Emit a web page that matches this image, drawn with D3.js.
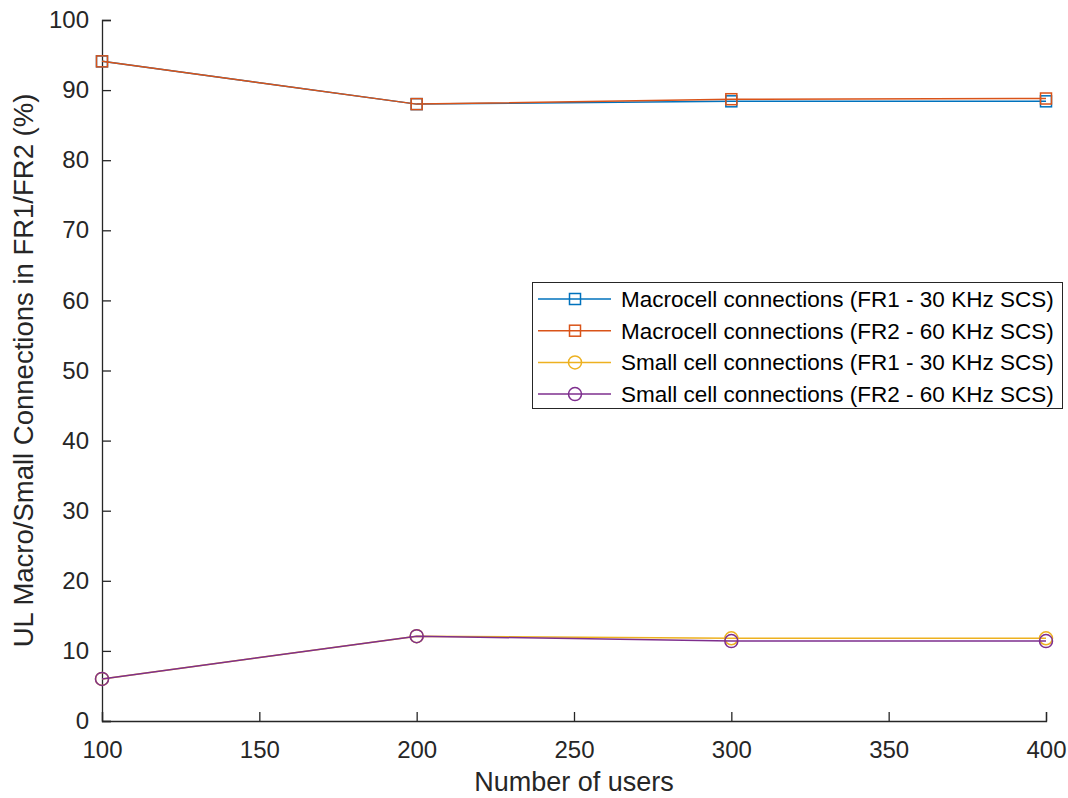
<!DOCTYPE html>
<html><head><meta charset="utf-8">
<script src="https://cdn.jsdelivr.net/npm/d3@7"></script>
<style>body{margin:0;background:#fff;} svg{display:block;font-family:"Liberation Sans",Arial,Helvetica,sans-serif;}</style>
</head><body>
<svg id="c" width="1068" height="798"></svg>
<script>
const users = [100, 200, 300, 400];
const macroFR1 = [94.1, 88.0, 88.4, 88.4];
const macroFR2 = [94.1, 88.0, 88.7, 88.8];
const smallFR1 = [6.0, 12.1, 11.8, 11.8];
const smallFR2 = [6.0, 12.1, 11.4, 11.4];
const seriesNames = [
  "Macrocell connections (FR1 - 30 KHz SCS)",
  "Macrocell connections (FR2 - 60 KHz SCS)",
  "Small cell connections (FR1 - 30 KHz SCS)",
  "Small cell connections (FR2 - 60 KHz SCS)"
];
const colors = ["#0072BD", "#D95319", "#EDB120", "#7E2F8E"];
const markers = ["square", "square", "circle", "circle"];
const xTicks = [100, 150, 200, 250, 300, 350, 400];
const yTicks = [0, 10, 20, 30, 40, 50, 60, 70, 80, 90, 100];

const series = [macroFR1, macroFR2, smallFR1, smallFR2].map((v, i) => ({
  name: seriesNames[i], color: colors[i], marker: markers[i], values: v
}));

const svg = d3.select("#c");
const L = 102, R = 1046, T = 20, B = 721;
const x = d3.scaleLinear().domain([100, 400]).range([L, R]);
const y = d3.scaleLinear().domain([0, 100]).range([B, T]);
const axisColor = "#262626";

// Axes (MATLAB style: inward ticks)
const gx = svg.append("g").attr("transform", `translate(0,${B})`)
  .call(d3.axisBottom(x).tickValues(xTicks).tickSize(-9).tickPadding(18).tickFormat(d3.format("d")));
const gy = svg.append("g").attr("transform", `translate(${L},0)`)
  .call(d3.axisLeft(y).tickValues(yTicks).tickSize(-9).tickPadding(13).tickFormat(d3.format("d")));
[gx, gy].forEach(g => {
  g.select(".domain").attr("stroke", axisColor).attr("stroke-width", 1.3);
  g.selectAll(".tick line").attr("stroke", axisColor).attr("stroke-width", 1.3);
  g.selectAll(".tick text").attr("fill", axisColor).attr("font-size", 24)
    .attr("font-family", '"Liberation Sans",Arial,sans-serif');
});
gx.selectAll(".tick text").attr("dy", "0.71em").attr("y", 20);

// Lines
const line = d3.line().x((d, i) => x(users[i])).y(d => y(d));
const drawMarker = (g, type, cx, cy, color) => {
  if (type === "square") {
    g.append("rect").attr("x", cx - 5.5).attr("y", cy - 5.5).attr("width", 11).attr("height", 11)
      .attr("fill", "none").attr("stroke", color).attr("stroke-width", 1.5);
  } else {
    g.append("circle").attr("cx", cx).attr("cy", cy).attr("r", 6.5)
      .attr("fill", "none").attr("stroke", color).attr("stroke-width", 1.5);
  }
};
series.forEach(s => {
  const g = svg.append("g");
  g.append("path").datum(s.values).attr("d", line).attr("fill", "none")
    .attr("stroke", s.color).attr("stroke-width", 1.5);
  s.values.forEach((v, i) => drawMarker(g, s.marker, x(users[i]), y(v), s.color));
});

// Axis labels
svg.append("text").attr("x", (L + R) / 2).attr("y", 791).attr("text-anchor", "middle")
  .attr("font-size", 27).attr("fill", axisColor).text("Number of users");
svg.append("text").attr("transform", `translate(33,${(T + B) / 2}) rotate(-90)`)
  .attr("text-anchor", "middle").attr("font-size", 27.5).attr("fill", axisColor)
  .text("UL Macro/Small Connections in FR1/FR2 (%)");

// Legend
const lg = svg.append("g");
lg.append("rect").attr("x", 532.5).attr("y", 282.5).attr("width", 530).attr("height", 126)
  .attr("fill", "#fff").attr("stroke", axisColor).attr("stroke-width", 1);
series.forEach((s, i) => {
  const cy = 299 + i * 31.7;
  lg.append("line").attr("x1", 538).attr("x2", 611).attr("y1", cy).attr("y2", cy)
    .attr("stroke", s.color).attr("stroke-width", 1.5);
  drawMarker(lg, s.marker, 575, cy, s.color);
  lg.append("text").attr("x", 621).attr("y", cy).attr("dy", "0.35em")
    .attr("font-size", 22.5).attr("fill", "#000").text(s.name);
});
</script>
</body></html>
